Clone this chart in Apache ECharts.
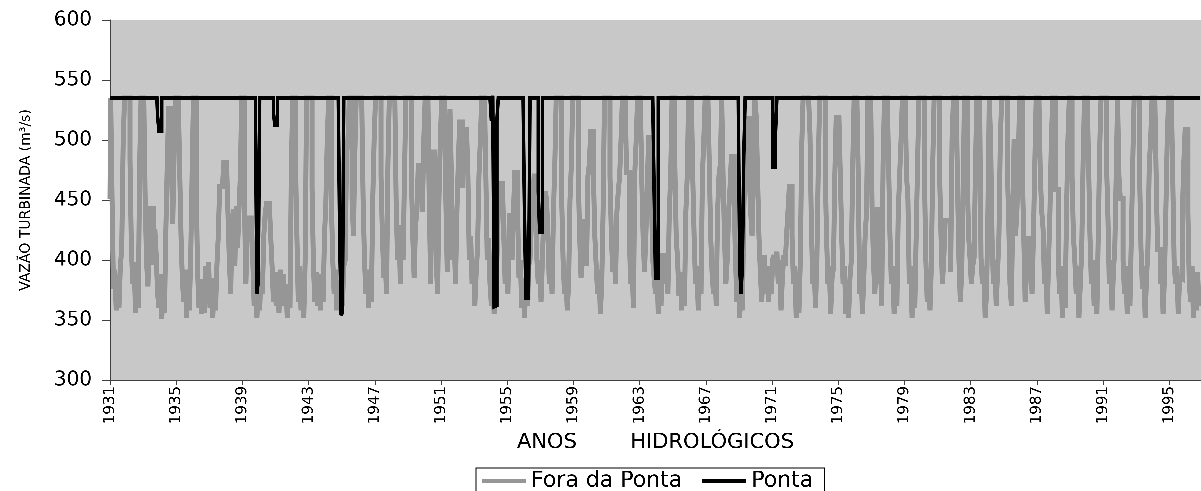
<!DOCTYPE html>
<html>
<head>
<meta charset="utf-8">
<script src="https://cdn.jsdelivr.net/npm/echarts@6.0.0/dist/echarts.min.js"></script>
<style>html,body{margin:0;padding:0;background:#fff}#chart{width:1201px;height:491px}</style>
</head>
<body>
<div id="chart"></div>
<script>
const years = [1931,1932,1933,1934,1935,1936,1937,1938,1939,1940,1941,1942,1943,1944,1945,1946,1947,1948,1949,1950,
1951,1952,1953,1954,1955,1956,1957,1958,1959,1960,1961,1962,1963,1964,1965,1966,1967,1968,1969,1970,
1971,1972,1973,1974,1975,1976,1977,1978,1979,1980,1981,1982,1983,1984,1985,1986,1987,1988,1989,1990,
1991,1992,1993,1994,1995,1996];
const months = ['01','02','03','04','05','06','07','08','09','10','11','12'];
const tickLabels = ['1931','1935','1939','1943','1947','1951','1955','1959','1963','1967','1971','1975','1979','1983','1987','1991','1995'];

// Fora da Ponta, monthly values (m3/s), one row per year
const foraDaPonta = [
[451,535,450,376,392,358,381,360,395,409,494,535],
[535,535,535,484,409,380,398,356,377,360,480,535],
[535,535,450,398,378,420,443,443,396,426,404,372],
[360,388,351,375,356,425,480,526,526,480,430,490],
[535,535,535,476,420,382,365,392,352,380,358,402],
[470,535,535,460,390,360,384,355,378,356,395,372],
[398,360,385,352,378,358,395,420,461,461,461,481],
[481,481,440,400,372,430,442,395,445,410,442,470],
[535,535,445,380,420,435,435,435,400,362,385,352],
[376,358,390,372,420,439,447,447,447,420,395,365],
[385,362,390,356,392,368,388,362,380,352,375,360],
[480,535,535,480,420,365,395,358,385,352,400,535],
[535,535,535,460,395,365,390,362,384,358,388,365],
[420,448,500,535,535,448,400,372,392,358,380,360],
[385,362,395,400,489,500,535,535,451,420,489,535],
[535,535,535,535,451,400,372,392,360,384,365,450],
[500,535,535,535,535,470,420,385,400,372,480,535],
[535,535,535,535,445,400,429,380,429,400,470,535],
[535,535,535,470,420,385,429,440,479,479,479,440],
[500,535,535,535,445,380,490,490,490,400,372,450],
[500,535,535,535,450,390,480,526,470,400,420,380],
[440,480,515,515,460,509,509,509,470,400,420,380],
[400,362,390,410,470,500,535,535,535,470,400,418],
[380,362,390,355,385,400,440,464,464,464,420,380],
[400,372,437,437,400,440,473,473,440,385,400,360],
[385,352,380,362,395,400,430,450,470,470,400,380],
[400,365,400,440,457,451,420,380,400,372,440,480],
[535,535,535,535,450,400,372,390,358,380,450,480],
[535,535,535,535,470,420,385,400,434,418,395,470],
[480,507,507,470,420,395,372,392,355,380,440,535],
[535,535,535,470,420,390,410,380,440,457,470,500],
[535,535,535,473,473,420,380,395,360,473,500,535],
[535,535,470,420,390,420,460,502,502,457,400,385],
[372,395,355,385,362,404,404,380,400,372,440,470],
[535,535,480,420,400,370,390,358,385,362,440,470],
[535,535,535,470,420,380,395,358,385,372,470,500],
[535,535,535,480,420,390,372,400,362,440,470,480],
[535,470,420,380,400,440,460,486,486,450,400,365],
[390,352,375,358,440,487,518,518,470,440,420,470],
[535,520,470,420,390,365,390,404,372,395,365,390],
[372,401,404,390,407,380,400,358,385,404,395,420],
[440,461,461,420,380,395,352,380,356,400,494,535],
[535,535,535,535,505,430,380,395,360,400,476,535],
[535,535,535,476,420,380,395,355,385,393,470,519],
[519,519,470,420,380,395,355,380,352,385,400,480],
[535,535,535,470,372,395,355,385,420,440,535,535],
[535,445,400,372,395,444,380,400,362,480,535,535],
[535,480,420,380,395,355,385,362,440,470,500,535],
[535,535,470,451,380,395,352,385,360,420,480,535],
[535,535,535,470,400,365,390,358,395,480,535,535],
[535,535,470,420,380,400,433,433,433,433,390,500],
[535,535,535,460,400,365,390,459,535,535,470,420],
[402,380,395,402,480,535,535,535,402,380,395,352],
[372,440,535,498,418,380,400,362,390,420,500,535],
[535,535,535,480,437,380,362,437,501,420,440,480],
[535,535,470,420,365,390,418,418,400,372,420,480],
[535,535,535,470,441,426,380,400,355,400,441,500],
[535,535,459,459,400,372,395,352,385,360,440,500],
[535,535,470,420,400,372,395,352,380,407,480,535],
[535,535,480,420,380,400,362,390,355,420,490,535],
[535,535,535,480,437,380,400,358,390,410,470,535],
[470,451,451,400,372,395,355,385,362,420,480,535],
[535,535,535,470,409,376,395,352,385,409,480,500],
[535,535,535,470,409,409,380,395,355,385,440,500],
[535,535,535,470,400,380,395,355,385,384,440,480],
[509,509,440,380,365,395,352,380,358,390,362,372]
];

// Ponta, monthly values (m3/s), one row per year
const ponta = [
[535,535,535,535,535,535,535,535,535,535,535,535],
[535,535,535,535,535,535,535,535,535,535,535,535],
[535,535,535,535,535,535,535,535,535,535,535,520],
[507,507,535,535,535,535,535,535,535,535,535,535],
[535,535,535,535,535,535,535,535,535,535,535,535],
[535,535,535,535,535,535,535,535,535,535,535,535],
[535,535,535,535,535,535,535,535,535,535,535,535],
[535,535,535,535,535,535,535,535,535,535,535,535],
[535,535,535,535,535,535,535,535,535,535,515,372],
[382,535,535,535,535,535,535,535,535,535,535,523],
[512,512,535,535,535,535,535,535,535,535,535,535],
[535,535,535,535,535,535,535,535,535,535,535,535],
[535,535,535,535,535,535,535,535,535,535,535,535],
[535,535,535,535,535,535,535,535,535,535,535,420],
[354,356,535,535,535,535,535,535,535,535,535,535],
[535,535,535,535,535,535,535,535,535,535,535,535],
[535,535,535,535,535,535,535,535,535,535,535,535],
[535,535,535,535,535,535,535,535,535,535,535,535],
[535,535,535,535,535,535,535,535,535,535,535,535],
[535,535,535,535,535,535,535,535,535,535,535,535],
[535,535,535,535,535,535,535,535,535,535,535,535],
[535,535,535,535,535,535,535,535,535,535,535,535],
[535,535,535,535,535,535,535,535,535,535,535,535],
[535,516,537,361,362,516,535,535,535,535,535,535],
[535,535,535,535,535,535,535,535,535,535,535,535],
[535,440,368,368,372,535,535,535,535,535,535,457],
[423,423,535,535,535,535,535,535,535,535,535,535],
[535,535,535,535,535,535,535,535,535,535,535,535],
[535,535,535,535,535,535,535,535,535,535,535,535],
[535,535,535,535,535,535,535,535,535,535,535,535],
[535,535,535,535,535,535,535,535,535,535,535,535],
[535,535,535,535,535,535,535,535,535,535,535,535],
[535,535,535,535,535,535,535,535,535,535,535,457],
[385,385,535,535,535,535,535,535,535,535,535,535],
[535,535,535,535,535,535,535,535,535,535,535,535],
[535,535,535,535,535,535,535,535,535,535,535,535],
[535,535,535,535,535,535,535,535,535,535,535,535],
[535,535,535,535,535,535,535,535,535,535,535,535],
[535,395,372,395,487,535,535,535,535,535,535,535],
[535,535,535,535,535,535,535,535,535,535,535,535],
[535,477,477,505,535,535,535,535,535,535,535,535],
[535,535,535,535,535,535,535,535,535,535,535,535],
[535,535,535,535,535,535,535,535,535,535,535,535],
[535,535,535,535,535,535,535,535,535,535,535,535],
[535,535,535,535,535,535,535,535,535,535,535,535],
[535,535,535,535,535,535,535,535,535,535,535,535],
[535,535,535,535,535,535,535,535,535,535,535,535],
[535,535,535,535,535,535,535,535,535,535,535,535],
[535,535,535,535,535,535,535,535,535,535,535,535],
[535,535,535,535,535,535,535,535,535,535,535,535],
[535,535,535,535,535,535,535,535,535,535,535,535],
[535,535,535,535,535,535,535,535,535,535,535,535],
[535,535,535,535,535,535,535,535,535,535,535,535],
[535,535,535,535,535,535,535,535,535,535,535,535],
[535,535,535,535,535,535,535,535,535,535,535,535],
[535,535,535,535,535,535,535,535,535,535,535,535],
[535,535,535,535,535,535,535,535,535,535,535,535],
[535,535,535,535,535,535,535,535,535,535,535,535],
[535,535,535,535,535,535,535,535,535,535,535,535],
[535,535,535,535,535,535,535,535,535,535,535,535],
[535,535,535,535,535,535,535,535,535,535,535,535],
[535,535,535,535,535,535,535,535,535,535,535,535],
[535,535,535,535,535,535,535,535,535,535,535,535],
[535,535,535,535,535,535,535,535,535,535,535,535],
[535,535,535,535,535,535,535,535,535,535,535,535],
[535,535,535,535,535,535,535,535,535,535,535,535]
];

const categories = years.flatMap(y => months.map(m => y + '-' + m));
const foraFlat = foraDaPonta.flat();
const pontaFlat = ponta.flat();
const isTick = (v) => v.slice(5) === '01' && tickLabels.indexOf(v.slice(0, 4)) >= 0;

const chart = echarts.init(document.getElementById('chart'), null, {renderer: 'canvas', devicePixelRatio: 3});
chart.setOption({
  animation: false,
  backgroundColor: '#ffffff',
  grid: {left: 110, top: 20, width: 1095, height: 360, show: true, backgroundColor: '#c8c8c8', borderWidth: 0},
  legend: {
    left: 476, top: 468, orient: 'horizontal', icon: 'rect',
    itemWidth: 44, itemHeight: 4, itemGap: 20,
    padding: [2, 11, 8, 6],
    backgroundColor: '#ffffff', borderColor: '#000000', borderWidth: 1,
    textStyle: {fontFamily: 'DejaVu Sans', fontSize: 22, color: '#000'},
    data: ['Fora da Ponta', 'Ponta']
  },
  xAxis: {
    type: 'category', data: categories, boundaryGap: false,
    axisLine: {lineStyle: {color: '#404040', width: 1}},
    axisTick: {show: true, interval: (i, v) => isTick(v), length: 5, lineStyle: {color: '#404040'}},
    axisLabel: {interval: (i, v) => isTick(v), rotate: 90, formatter: v => v.slice(0, 4),
      fontFamily: 'DejaVu Sans', fontSize: 15, color: '#000', margin: 6},
    splitLine: {show: false},
    name: 'ANOS        HIDROLÓGICOS', nameLocation: 'middle', nameGap: 52,
    nameTextStyle: {fontFamily: 'DejaVu Sans', fontSize: 21, color: '#000'}
  },
  yAxis: {
    type: 'value', min: 300, max: 600, interval: 50,
    axisLine: {show: true, lineStyle: {color: '#404040', width: 1}},
    axisTick: {show: true, length: 8, lineStyle: {color: '#404040'}},
    splitLine: {show: false},
    axisLabel: {fontFamily: 'DejaVu Sans', fontSize: 20, color: '#000', margin: 18},
    name: 'VAZÃO TURBINADA (m³/s)', nameLocation: 'middle', nameGap: 77, nameRotate: 90,
    nameTextStyle: {fontFamily: 'DejaVu Sans', fontSize: 14, color: '#000'}
  },
  series: [
    {name: 'Fora da Ponta', type: 'line', data: foraFlat, step: 'middle', symbol: 'none', showSymbol: false,
      color: '#969696', lineStyle: {color: '#969696', width: 5, join: 'miter', miterLimit: 2}, itemStyle: {color: '#969696'}, z: 2},
    {name: 'Ponta', type: 'line', data: pontaFlat, step: 'middle', symbol: 'none', showSymbol: false,
      color: '#000000', lineStyle: {color: '#000000', width: 3.5, join: 'miter', miterLimit: 2}, itemStyle: {color: '#000000'}, z: 3}
  ]
});
</script>
</body>
</html>
